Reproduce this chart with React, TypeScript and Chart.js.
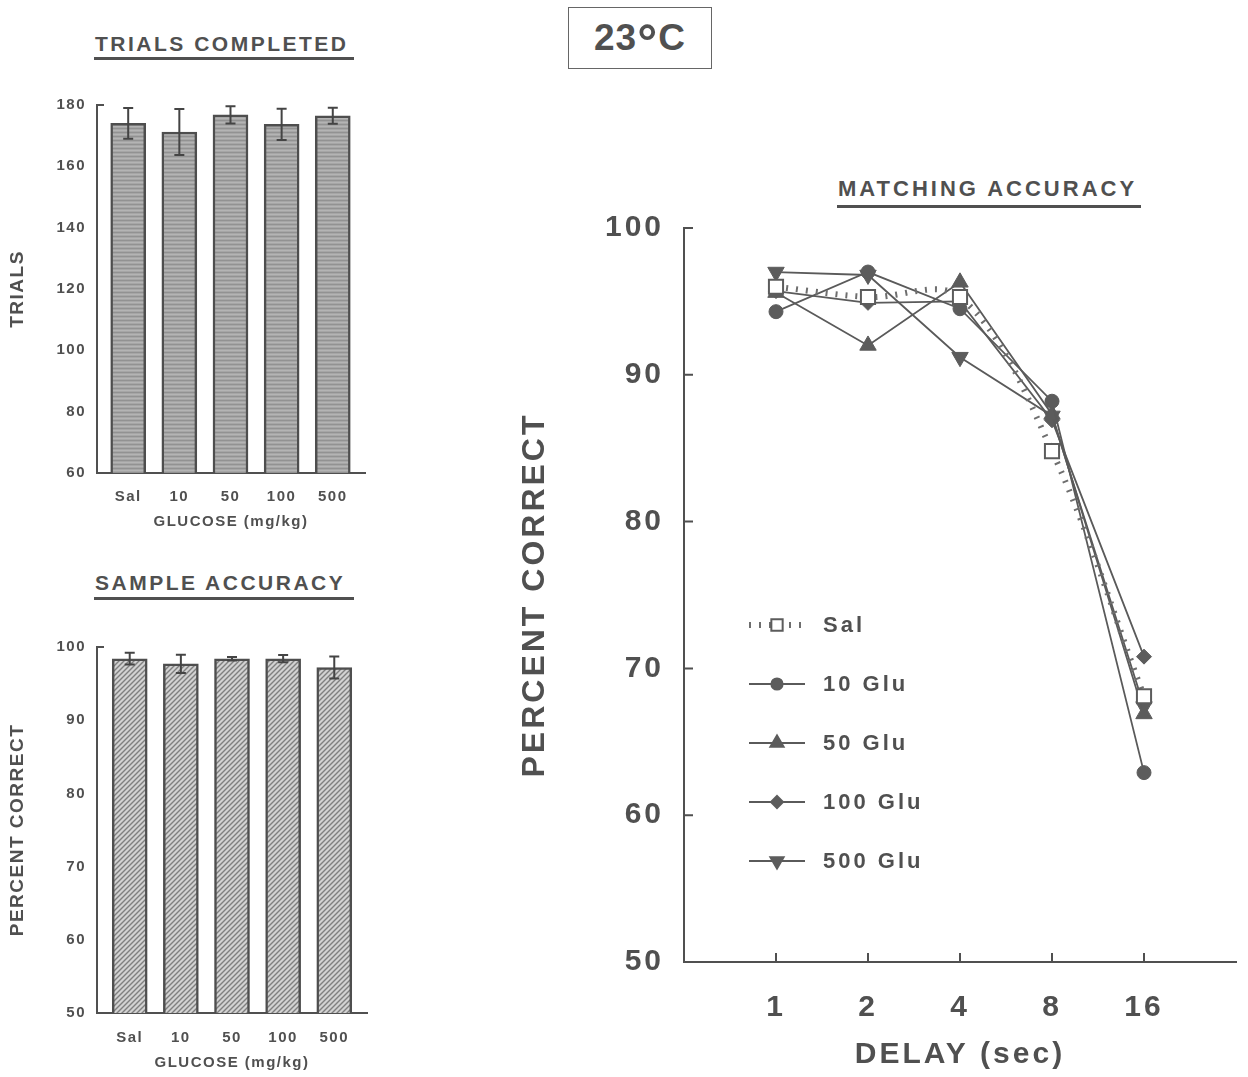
import React, { useEffect, useRef } from 'react';
import { Chart, registerables } from 'chart.js';

Chart.register(...registerables);

// ---------- data ----------
const doseLabels = ['Sal', '10', '50', '100', '500'];
const trialsMean = [174.0, 171.2, 176.8, 173.7, 176.5];
const trialsErr = [5.0, 7.5, 2.8, 5.1, 2.6];
const trialsTicks = [60, 80, 100, 120, 140, 160, 180];

const sampleMean = [98.4, 97.7, 98.4, 98.4, 97.2];
const sampleErr = [0.8, 1.25, 0.25, 0.5, 1.5];
const sampleTicks = [50, 60, 70, 80, 90, 100];

const delayLabels = ['1', '2', '4', '8', '16'];
const seriesLabels = ['Sal', '10 Glu', '50 Glu', '100 Glu', '500 Glu'];
const salValues = [96.0, 95.3, 95.3, 84.8, 68.1];
const glu10Values = [94.3, 97.0, 94.5, 88.2, 62.9];
const glu50Values = [95.6, 92.0, 96.3, 87.3, 66.9];
const glu100Values = [95.7, 94.9, 95.0, 86.9, 70.8];
const glu500Values = [97.0, 96.8, 91.2, 87.2, 67.4];
const percentTicks = [50, 60, 70, 80, 90, 100];

// ---------- styling ----------
const FONT = '"Liberation Sans", Arial, Helvetica, sans-serif';
const INK = '#505050';
const LINE = '#5a5a5a';
const MARK = '#5c5c5c';

function makePattern(kind: 'stipple' | 'hatch'): CanvasPattern | string {
  const c = document.createElement('canvas');
  const n = kind === 'hatch' ? 5 : 4;
  c.width = n;
  c.height = n;
  const g = c.getContext('2d');
  if (!g) return '#aaaaaa';
  if (kind === 'stipple') {
    g.fillStyle = '#a6a6a6';
    g.fillRect(0, 0, n, n);
    g.fillStyle = '#929292';
    g.fillRect(0, 0, n, 1);
    g.fillStyle = '#b4b4b4';
    g.fillRect(0, 2, n, 1);
  } else {
    g.fillStyle = '#d2d2d2';
    g.fillRect(0, 0, n, n);
    g.strokeStyle = '#7f7f7f';
    g.lineWidth = 1.4;
    g.beginPath();
    g.moveTo(0, n);
    g.lineTo(n, 0);
    g.moveTo(-1, 1);
    g.lineTo(1, -1);
    g.moveTo(n - 1, n + 1);
    g.lineTo(n + 1, n - 1);
    g.stroke();
  }
  const p = g.createPattern(c, 'repeat');
  return p || '#aaaaaa';
}

const spacingPlugin = (px: string) => ({
  id: 'letterSpacing',
  beforeUpdate(chart: any) {
    (chart.ctx as any).letterSpacing = px;
  },
  beforeDraw(chart: any) {
    (chart.ctx as any).letterSpacing = px;
  },
});

const errorBarsPlugin = (errs: number[]) => ({
  id: 'errorBars',
  afterDatasetsDraw(chart: any) {
    const meta = chart.getDatasetMeta(0);
    const ys = chart.scales.y;
    const ctx = chart.ctx as CanvasRenderingContext2D;
    ctx.save();
    ctx.strokeStyle = '#444';
    ctx.lineWidth = 2;
    meta.data.forEach((bar: any, i: number) => {
      const v = chart.data.datasets[0].data[i].y;
      const top = ys.getPixelForValue(v + errs[i]);
      const bot = ys.getPixelForValue(v - errs[i]);
      ctx.beginPath();
      ctx.moveTo(bar.x, top);
      ctx.lineTo(bar.x, bot);
      ctx.moveTo(bar.x - 5, top);
      ctx.lineTo(bar.x + 5, top);
      ctx.moveTo(bar.x - 5, bot);
      ctx.lineTo(bar.x + 5, bot);
      ctx.stroke();
    });
    ctx.restore();
  },
});

const inwardTicksPlugin = (allY: boolean, withX: boolean, len: number) => ({
  id: 'inwardTicks',
  afterDraw(chart: any) {
    const ctx = chart.ctx as CanvasRenderingContext2D;
    const a = chart.chartArea;
    const ys = chart.scales.y;
    const xs = chart.scales.x;
    ctx.save();
    ctx.strokeStyle = INK;
    ctx.lineWidth = 2;
    ctx.beginPath();
    ys.ticks.forEach((t: any) => {
      if (t.value === ys.min) return;
      if (!allY && t.value !== ys.max) return;
      const p = ys.getPixelForValue(t.value);
      ctx.moveTo(a.left, p);
      ctx.lineTo(a.left + len, p);
    });
    if (withX) {
      xs.ticks.forEach((t: any) => {
        const p = xs.getPixelForValue(t.value);
        ctx.moveTo(p, a.bottom);
        ctx.lineTo(p, a.bottom - len);
      });
    }
    ctx.stroke();
    ctx.restore();
  },
});

function drawMarker(
  ctx: CanvasRenderingContext2D,
  style: string,
  x: number,
  y: number,
  r: number,
  rot: number,
  fill: string,
  stroke: string
) {
  ctx.save();
  ctx.fillStyle = fill;
  ctx.strokeStyle = stroke;
  ctx.lineWidth = 2;
  ctx.setLineDash([]);
  ctx.beginPath();
  if (style === 'circle') {
    ctx.arc(x, y, r, 0, Math.PI * 2);
  } else if (style === 'rect') {
    const s = r / Math.SQRT2;
    ctx.rect(x - s, y - s, 2 * s, 2 * s);
  } else if (style === 'rectRot') {
    ctx.moveTo(x, y - r);
    ctx.lineTo(x + r, y);
    ctx.lineTo(x, y + r);
    ctx.lineTo(x - r, y);
    ctx.closePath();
  } else if (style === 'triangle') {
    let a = (rot * Math.PI) / 180;
    ctx.moveTo(x + Math.sin(a) * r, y - Math.cos(a) * r);
    a += (2 * Math.PI) / 3;
    ctx.lineTo(x + Math.sin(a) * r, y - Math.cos(a) * r);
    a += (2 * Math.PI) / 3;
    ctx.lineTo(x + Math.sin(a) * r, y - Math.cos(a) * r);
    ctx.closePath();
  }
  ctx.fill();
  ctx.stroke();
  ctx.restore();
}

const legendPlugin = {
  id: 'innerLegend',
  afterDraw(chart: any) {
    const ctx = chart.ctx as CanvasRenderingContext2D;
    const a = chart.chartArea;
    const x0 = a.left + 65;
    const x1 = a.left + 121;
    const xm = a.left + 93;
    chart.data.datasets.forEach((ds: any, i: number) => {
      const y = a.top + 397 + i * 59;
      ctx.save();
      ctx.strokeStyle = ds.borderColor;
      ctx.lineWidth = ds.borderWidth;
      ctx.lineCap = 'butt';
      ctx.setLineDash(ds.borderDash || []);
      ctx.beginPath();
      ctx.moveTo(x0, y);
      ctx.lineTo(x1, y);
      ctx.stroke();
      ctx.restore();
      drawMarker(
        ctx,
        ds.pointStyle,
        xm,
        y,
        ds.pointRadius * 0.8,
        ds.pointRotation || 0,
        ds.pointBackgroundColor,
        ds.pointBorderColor
      );
      ctx.save();
      ctx.font = `bold 22px ${FONT}`;
      ctx.fillStyle = INK;
      ctx.textBaseline = 'middle';
      ctx.textAlign = 'left';
      ctx.fillText(ds.label, a.left + 139, y + 1);
      ctx.restore();
    });
  },
};

function barConfig(
  means: number[],
  errs: number[],
  ticks: number[],
  yTitle: string,
  xMin: number,
  xMax: number,
  fill: CanvasPattern | string,
  pad: { top: number; right: number },
  xHeight: number,
  xTickPad: number,
  xTitlePad: number
): any {
  return {
    type: 'bar',
    data: {
      datasets: [
        {
          data: means.map((y, i) => ({ x: i, y })),
          backgroundColor: fill,
          borderColor: '#4e4e4e',
          borderWidth: 2.5,
          borderSkipped: 'bottom',
          barThickness: 35,
        },
      ],
    },
    options: {
      responsive: false,
      animation: false,
      events: [],
      layout: { padding: { left: 0, right: pad.right, top: pad.top, bottom: 0 } },
      plugins: { legend: { display: false }, tooltip: { enabled: false }, title: { display: false } },
      scales: {
        x: {
          type: 'linear',
          offset: false,
          min: xMin,
          max: xMax,
          grid: { display: false, drawTicks: false, offset: false },
          border: { display: true, color: INK, width: 2 },
          afterBuildTicks: (s: any) => {
            s.ticks = doseLabels.map((_, i) => ({ value: i }));
          },
          afterFit: (s: any) => {
            s.height = xHeight;
          },
          ticks: {
            autoSkip: false,
            maxRotation: 0,
            padding: xTickPad,
            color: INK,
            font: { family: FONT, size: 15, weight: 'bold' },
            callback: (_v: any, i: number) => doseLabels[i],
          },
          title: {
            display: true,
            text: 'GLUCOSE (mg/kg)',
            color: INK,
            font: { family: FONT, size: 15, weight: 'bold' },
            padding: { top: 0, bottom: xTitlePad },
          },
        },
        y: {
          type: 'linear',
          min: ticks[0],
          max: ticks[ticks.length - 1],
          grid: { display: false, drawTicks: false },
          border: { display: true, color: INK, width: 2 },
          afterBuildTicks: (s: any) => {
            s.ticks = ticks.map((v) => ({ value: v }));
          },
          afterFit: (s: any) => {
            s.width = 97;
          },
          ticks: {
            padding: 11,
            color: INK,
            font: { family: FONT, size: 15, weight: 'bold' },
          },
          title: {
            display: true,
            text: yTitle,
            color: INK,
            font: { family: FONT, size: 19, weight: 'bold' },
            padding: { top: 6, bottom: 0 },
          },
        },
      },
    },
    plugins: [spacingPlugin('1.5px'), errorBarsPlugin(errs), inwardTicksPlugin(false, false, 7)],
  };
}

function lineConfig(): any {
  const toPts = (vals: number[]) => vals.map((y, i) => ({ x: i + 1, y }));
  const solid = {
    borderColor: LINE,
    borderWidth: 1.8,
    tension: 0,
    pointBackgroundColor: MARK,
    pointBorderColor: MARK,
    pointBorderWidth: 1,
    clip: false,
  };
  return {
    type: 'line',
    data: {
      datasets: [
        {
          label: seriesLabels[0],
          data: toPts(salValues),
          borderColor: '#6e6e6e',
          borderWidth: 6,
          borderDash: [2, 8],
          borderCapStyle: 'butt',
          tension: 0.35,
          pointStyle: 'rect',
          pointRadius: 10,
          pointBackgroundColor: '#ffffff',
          pointBorderColor: MARK,
          pointBorderWidth: 2,
          clip: false,
        },
        { ...solid, label: seriesLabels[1], data: toPts(glu10Values), pointStyle: 'circle', pointRadius: 7 },
        { ...solid, label: seriesLabels[2], data: toPts(glu50Values), pointStyle: 'triangle', pointRadius: 9.5 },
        { ...solid, label: seriesLabels[3], data: toPts(glu100Values), pointStyle: 'rectRot', pointRadius: 7.5 },
        {
          ...solid,
          label: seriesLabels[4],
          data: toPts(glu500Values),
          pointStyle: 'triangle',
          pointRotation: 180,
          pointRadius: 9.5,
        },
      ],
    },
    options: {
      responsive: false,
      animation: false,
      events: [],
      layout: { padding: { left: 0, right: 8, top: 78, bottom: 0 } },
      plugins: { legend: { display: false }, tooltip: { enabled: false }, title: { display: false } },
      scales: {
        x: {
          type: 'linear',
          min: 0,
          max: 6,
          grid: { display: false, drawTicks: false },
          border: { display: true, color: INK, width: 2 },
          afterBuildTicks: (s: any) => {
            s.ticks = delayLabels.map((_, i) => ({ value: i + 1 }));
          },
          afterFit: (s: any) => {
            s.height = 115;
          },
          ticks: {
            autoSkip: false,
            maxRotation: 0,
            padding: 28,
            color: INK,
            font: { family: FONT, size: 30, weight: 'bold' },
            callback: (_v: any, i: number) => delayLabels[i],
          },
          title: {
            display: true,
            text: 'DELAY (sec)',
            color: INK,
            font: { family: FONT, size: 30, weight: 'bold' },
            padding: { top: 0, bottom: 4 },
          },
        },
        y: {
          type: 'linear',
          min: percentTicks[0],
          max: percentTicks[percentTicks.length - 1],
          grid: { display: false, drawTicks: false },
          border: { display: true, color: INK, width: 2 },
          afterBuildTicks: (s: any) => {
            s.ticks = percentTicks.map((v) => ({ value: v }));
          },
          afterFit: (s: any) => {
            s.width = 184;
          },
          ticks: {
            padding: 20,
            color: INK,
            font: { family: FONT, size: 30, weight: 'bold' },
          },
          title: {
            display: true,
            text: 'PERCENT CORRECT',
            color: INK,
            font: { family: FONT, size: 32, weight: 'bold' },
            padding: { top: 16, bottom: 0 },
          },
        },
      },
    },
    plugins: [spacingPlugin('3px'), inwardTicksPlugin(true, true, 9), legendPlugin],
  };
}

const panelTitle = (left: number, top: number, width: number, size: number, spacing: number, padBottom: number) =>
  ({
    position: 'absolute',
    left,
    top,
    width,
    fontFamily: FONT,
    fontWeight: 'bold',
    fontSize: size,
    lineHeight: '24px',
    letterSpacing: spacing,
    color: INK,
    borderBottom: `3px solid ${INK}`,
    paddingBottom: padBottom,
    paddingLeft: 1,
    whiteSpace: 'nowrap',
  } as React.CSSProperties);

export default function App() {
  const trialsRef = useRef<HTMLCanvasElement>(null);
  const sampleRef = useRef<HTMLCanvasElement>(null);
  const matchRef = useRef<HTMLCanvasElement>(null);

  useEffect(() => {
    const charts: Chart[] = [];
    if (trialsRef.current) {
      charts.push(
        new Chart(
          trialsRef.current,
          barConfig(
            trialsMean,
            trialsErr,
            trialsTicks,
            'TRIALS',
            -0.61,
            4.63,
            makePattern('stipple'),
            { top: 25, right: 15 },
            67,
            15,
            9
          )
        )
      );
    }
    if (sampleRef.current) {
      charts.push(
        new Chart(
          sampleRef.current,
          barConfig(
            sampleMean,
            sampleErr,
            sampleTicks,
            'PERCENT CORRECT',
            -0.64,
            4.64,
            makePattern('hatch'),
            { top: 87, right: 13 },
            64,
            16,
            5
          )
        )
      );
    }
    if (matchRef.current) {
      charts.push(new Chart(matchRef.current, lineConfig()));
    }
    return () => charts.forEach((c) => c.destroy());
  }, []);

  return (
    <div
      style={{
        position: 'absolute',
        left: 0,
        top: 0,
        width: 1248,
        height: 1077,
        background: '#ffffff',
        overflow: 'hidden',
      }}
    >
      <div style={panelTitle(94, 32, 259, 21, 2.5, 1)}>TRIALS COMPLETED</div>
      <div style={panelTitle(94, 571, 259, 21, 2.5, 2)}>SAMPLE ACCURACY</div>
      <div style={panelTitle(837, 177, 303, 22, 3, 4)}>MATCHING ACCURACY</div>
      <div
        style={{
          position: 'absolute',
          left: 568,
          top: 7,
          width: 142,
          height: 60,
          border: '1.5px solid #666',
          display: 'flex',
          alignItems: 'center',
          justifyContent: 'center',
          fontFamily: FONT,
          fontWeight: 'bold',
          fontSize: 37,
          color: INK,
          letterSpacing: 1,
        }}
      >
        <span>
          23
          <span style={{ fontSize: 50, lineHeight: 0, position: 'relative', top: 9 }}>°</span>
          C
        </span>
      </div>
      <canvas
        ref={trialsRef}
        width={380}
        height={460}
        style={{ position: 'absolute', left: 0, top: 80, width: 380, height: 460, display: 'block' }}
      />
      <canvas
        ref={sampleRef}
        width={380}
        height={517}
        style={{ position: 'absolute', left: 0, top: 560, width: 380, height: 517, display: 'block' }}
      />
      <canvas
        ref={matchRef}
        width={748}
        height={927}
        style={{ position: 'absolute', left: 500, top: 150, width: 748, height: 927, display: 'block' }}
      />
    </div>
  );
}
